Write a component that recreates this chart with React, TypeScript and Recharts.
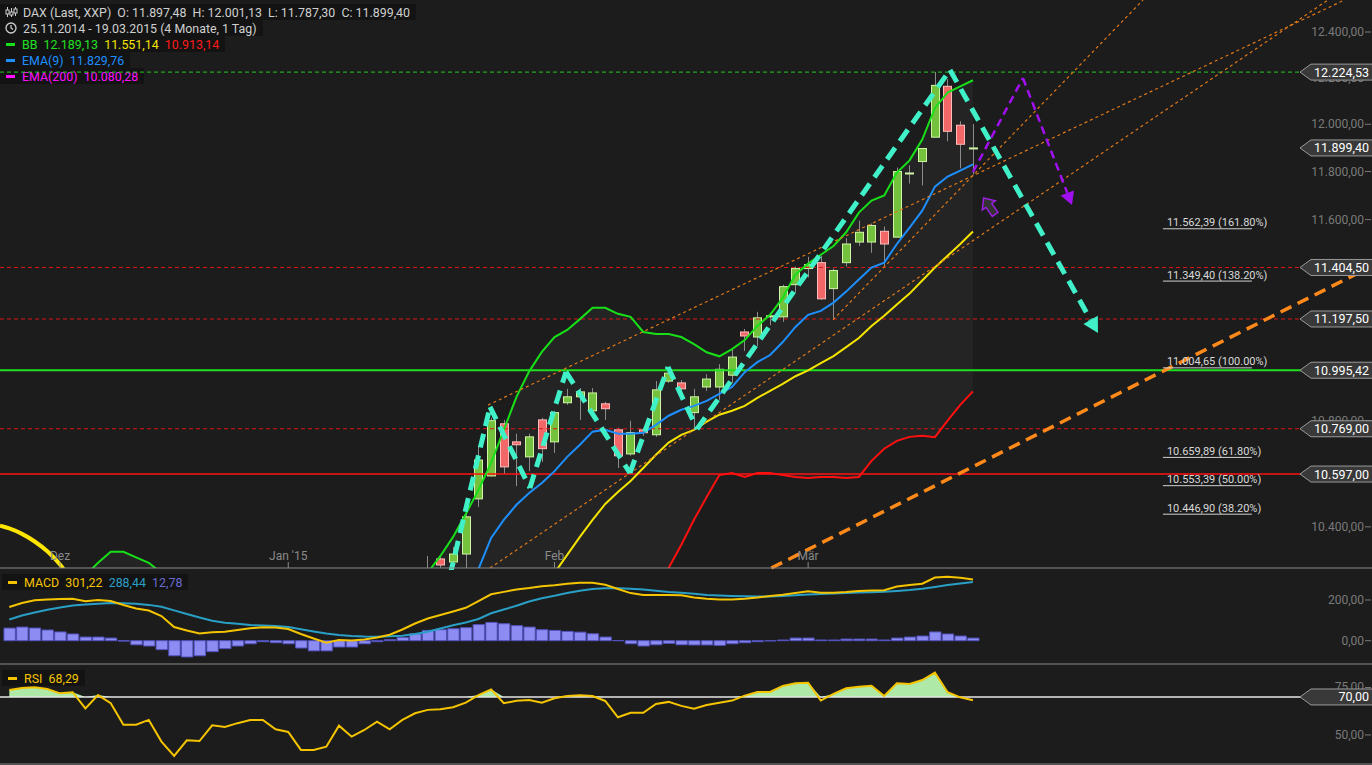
import React from "react";
import { ComposedChart, Bar, Line, Area, XAxis, YAxis, ReferenceLine, ReferenceDot } from "recharts";

const W = 1372;
const BG = "#1c1c1c";

// trading days 25.11.2014 - 19.03.2015
const days = [
  "25.11", "26.11", "27.11", "28.11",
  "01.12", "02.12", "03.12", "04.12", "05.12", "08.12", "09.12", "10.12", "11.12", "12.12",
  "15.12", "16.12", "17.12", "18.12", "19.12", "22.12", "23.12", "29.12",
  "02.01", "05.01", "06.01", "07.01", "08.01", "09.01", "12.01", "13.01", "14.01", "15.01", "16.01",
  "19.01", "20.01", "21.01", "22.01", "23.01", "26.01", "27.01", "28.01", "29.01", "30.01",
  "02.02", "03.02", "04.02", "05.02", "06.02", "09.02", "10.02", "11.02", "12.02", "13.02",
  "16.02", "17.02", "18.02", "19.02", "20.02", "23.02", "24.02", "25.02", "26.02", "27.02",
  "02.03", "03.03", "04.03", "05.03", "06.03", "09.03", "10.03", "11.03", "12.03", "13.03",
  "16.03", "17.03", "18.03", "19.03",
];
const monthTicks = [4, 22, 43, 63];
const monthNames = ["Dez", "Jan '15", "Feb", "Mär"];

// candles from 19.01. on (earlier ones lie below the visible range)
const firstCandle = 33;
const candleOpen = [
  10170, 10282, 10271, 10300, 10504, 10590, 10788, 10719, 10662, 10803, 10719, 10869, 10892, 10838,
  10865, 10765, 10673, 10765, 10746, 10953, 10946, 10831, 10930, 10930, 10976, 11146, 11126, 11206,
  11206, 11335, 11400, 11424, 11319, 11424, 11508, 11508, 11552, 11528, 11790, 11842, 11945, 12163,
  11996, 11897.48,
];
const candleHigh = [
  10293, 10293, 10326, 10452, 10704, 10811, 10803, 10750, 10750, 10811, 10838, 10923, 10926, 10926,
  10873, 10773, 10800, 10773, 10953, 10995, 10957, 10923, 10980, 11019, 11075, 11158, 11226, 11222,
  11335, 11408, 11448, 11452, 11400, 11524, 11596, 11584, 11572, 11817, 11826, 11898, 12224.53, 12194,
  12013, 12001.13,
];
const candleLow = [
  10120, 10235, 10238, 10235, 10474, 10588, 10597, 10552, 10608, 10643, 10677, 10861, 10803, 10831,
  10803, 10620, 10666, 10742, 10738, 10946, 10911, 10773, 10915, 10880, 10946, 11071, 11091, 11173,
  11186, 11303, 11364, 11274, 11194, 11408, 11492, 11464, 11408, 11528, 11750, 11742, 11945, 11928,
  11813, 11787.3,
];
const candleClose = [
  10210, 10260, 10300, 10437, 10650, 10800, 10624, 10708, 10738, 10693, 10831, 10892, 10911, 10907,
  10846, 10666, 10754, 10754, 10919, 10984, 10923, 10892, 10961, 10999, 11047, 11130, 11202, 11210,
  11327, 11400, 11416, 11278, 11392, 11500, 11548, 11576, 11500, 11800, 11794, 11897, 12167, 11970,
  11915, 11899.4,
];

const bbUpper = [
  10080, 10110, 10140, 10170, 10190, 10205, 10222, 10268, 10308, 10308,
  10288, 10268, 10231, 10180, 10130, 10100, 10080, 10060, 10050, 10040,
  10030, 10030, 10030, 10020, 10010, 10005, 10010, 10020, 10040, 10070,
  10100, 10130, 10170, 10232, 10293, 10363, 10448, 10537, 10639, 10765,
  10892, 10991, 11067, 11126, 11154, 11197, 11242, 11242, 11218, 11206,
  11146, 11138, 11138, 11126, 11098, 11066, 11050, 11078, 11114, 11170,
  11214, 11282, 11376, 11420, 11456, 11492, 11548, 11629, 11679, 11700,
  11796, 11847, 11935, 12070, 12136, 12163, 12189.13,
];
const bbMiddle = [
  9450, 9500, 9550, 9600, 9650, 9690, 9730, 9760, 9790, 9810,
  9830, 9840, 9840, 9830, 9820, 9820, 9820, 9830, 9840, 9840,
  9840, 9830, 9820, 9800, 9780, 9770, 9770, 9780, 9790, 9805,
  9815, 9825, 9835, 9845, 9860, 9880, 9900, 9930, 9965, 10000,
  10055, 10110, 10170, 10231, 10297, 10363, 10426, 10485, 10530, 10571,
  10620, 10670, 10716, 10746, 10765, 10796, 10823, 10838, 10857, 10888,
  10915, 10942, 10972, 10995, 11023, 11051, 11086, 11122, 11170, 11210,
  11255, 11299, 11352, 11404, 11452, 11500, 11551.14,
];
const bbLower = [
  9250, 9260, 9280, 9300, 9330, 9380, 9420, 9470, 9520, 9560,
  9580, 9590, 9580, 9550, 9520, 9500, 9500, 9510, 9520, 9530,
  9540, 9550, 9560, 9560, 9540, 9530, 9520, 9520, 9530, 9540,
  9550, 9560, 9570, 9580, 9590, 9600, 9610, 9620, 9630, 9640,
  9650, 9665, 9680, 9700, 9725, 9755, 9790, 9835, 9890, 9960,
  10050, 10150, 10249, 10334, 10426, 10511, 10593, 10601, 10586, 10601,
  10601, 10593, 10586, 10582, 10586, 10586, 10582, 10586, 10647, 10693,
  10723, 10738, 10742, 10737, 10800, 10861, 10913.14,
];
const ema9 = [
  9810, 9840, 9870, 9900, 9930, 9950, 9960, 9970, 9980, 9970,
  9950, 9920, 9880, 9830, 9790, 9770, 9780, 9800, 9830, 9850,
  9860, 9850, 9830, 9800, 9770, 9750, 9760, 9780, 9810, 9840,
  9870, 9900, 9940, 9990, 10050, 10110, 10180, 10245, 10359, 10426,
  10482, 10526, 10563, 10608, 10662, 10708, 10758, 10765, 10750, 10750,
  10754, 10784, 10819, 10842, 10857, 10876, 10903, 10930, 10988, 11027,
  11055, 11106, 11166, 11214, 11230, 11263, 11307, 11356, 11404, 11424,
  11500, 11567, 11637, 11737, 11779, 11804, 11829.76,
];
const ema200Last = 10080.28;

const macdLine = [
  165.6, 185, 198.5, 203, 205, 206, 193.6, 200, 195, 175.4,
  158, 148, 121, 67, 50, 36, 41, 44, 53, 61,
  66, 65, 57.5, 33, 11, -10, 3, 1, 6, 16,
  29.5, 55, 84.5, 109, 126, 143.5, 161.7, 195, 228, 240,
  251.6, 259, 268, 273, 279.6, 285, 285, 275, 254, 234,
  224.6, 224.6, 224.6, 223, 212, 206, 203, 203, 206, 212,
  219.7, 226, 234, 243, 236, 236, 239, 244, 246.7, 248,
  266, 273.7, 280, 310.6, 314.5, 309.6, 301.22,
];
const macdSignal = [
  104, 124, 138.6, 152, 163, 173, 178, 182, 185, 184,
  181, 176, 167, 149, 131, 114, 98, 88, 83, 77,
  75, 72, 67, 56, 45, 35, 28, 23, 20.6, 19.7,
  22, 24.6, 33, 44, 60, 75.7, 89, 106.6, 134.6, 153,
  171.5, 192.6, 209, 220.6, 234, 245.7, 254, 257.5, 257.5, 255,
  251.6, 245, 239, 236, 230.5, 224.6, 222, 219.7, 218, 216.7,
  217.6, 219.7, 223, 227, 229.5, 231.4, 234, 237, 238.3, 240,
  244, 249, 255.5, 264, 273.7, 281, 288.44,
];
const macdHist = [
  62, 67, 62, 52.6, 43, 33, 18, 18, 13, -2,
  -20, -26, -44, -74, -80, -74, -54, -39, -26, -15,
  -5, -10, -15, -36, -50, -50, -31, -31, -15, -5,
  5, 16, 34, 50.6, 54, 59, 64, 79, 90, 83.5,
  74, 67, 54, 50.6, 45.7, 42, 34, 18, 0.5, -15,
  -26, -20, -13, -20, -21, -21, -23, -15, -10, -5,
  -1, 3.4, 13, 13, 3.4, 3.4, 8, 8, 8, 3.4,
  13, 18, 23, 43, 33, 23, 12.78,
];
const rsiLine = [
  73.7, 74.7, 75.1, 74.2, 71.9, 72.5, 64, 71, 66.7, 55.4,
  55.4, 57.9, 46.5, 39, 47.2, 46.8, 55.1, 54.2, 56.2, 57.9,
  57.9, 53, 51.6, 42.1, 42.1, 43.8, 54.9, 49.1, 52.6, 57,
  53, 57.9, 61.4, 63.2, 63.5, 64.6, 67, 71, 74, 66.7,
  68, 68.4, 67, 69.3, 70.5, 70.9, 70.5, 67.9, 59.3, 61.7,
  61.7, 66.3, 67.4, 65.3, 63.8, 65.8, 67, 68.1, 70.7, 72.6,
  72.6, 75.8, 77.2, 77.5, 68.1, 71.6, 74.6, 75.4, 75.9, 70.5,
  77.2, 76.8, 78.9, 82.8, 72.5, 69.8, 68.29,
];

const priceTicks = [10400, 10600, 10800, 11000, 11200, 11400, 11600, 11800, 12000, 12200, 12400];
const macdTicks = [0, 200];
const rsiTicks = [50, 75];

const highLevel = 12224.53;
const lastPrice = 11899.4;
const redDashed = [11404.5, 11197.5, 10769];
const greenLevel = 10995.42;
const redLevel = 10597;
const rsiLevel = 70;

const fibLevels = [11562.39, 11349.4, 11004.65, 10659.89, 10553.39, 10446.9];
const fibPct = ["161.80%", "138.20%", "100.00%", "61.80%", "50.00%", "38.20%"];
const fibSpan = [90.98, 98.0];

// hand drawn annotations, in (trading day index, price)
const zigzag = [
  [34.75, 10220], [37.91, 10853], [41.06, 10545], [43.9, 10989], [48.95, 10601],
  [51.95, 11008], [54.24, 10768], [74.19, 12234], [85.86, 11142],
];
const forecast = [[76.0, 11798], [79.94, 12199], [83.81, 11660]];
const thinTrends = [
  [[37.75, 10860], [105.3, 12542]],
  [[37.91, 10249], [104.0, 12542]],
  [[64.96, 11194], [89.41, 12542]],
];
const thickTrend = [[60.1, 10249], [107.47, 11410]];
const arcPts = [[-0.733, 10404], [0, 10394], [1, 10374], [2, 10346], [3, 10310], [4, 10262], [4.6, 10225]];
const marker = [77.34, 11652];

const xDomain = [-0.733, 107.47];
const priceDomain = [10249.0, 12541.9];
const macdDomain = [-114.5, 347.4];
const rsiDomain = [34.7, 86.3];

const fmt = (v: number) => {
  const [a, b] = v.toFixed(2).split(".");
  return a.replace(/\B(?=(\d{3})+(?!\d))/g, ".") + "," + b;
};

const rows = days.map((d, i) => {
  const k = i - firstCandle;
  const has = k >= 0;
  return {
    i,
    d,
    open: has ? candleOpen[k] : null,
    high: has ? candleHigh[k] : null,
    low: has ? candleLow[k] : null,
    close: has ? candleClose[k] : null,
    range: has ? [candleLow[k], candleHigh[k]] : null,
    band: [bbLower[i], bbUpper[i]],
    upper: bbUpper[i],
    middle: bbMiddle[i],
    lower: bbLower[i],
    ema: ema9[i],
    macd: macdLine[i],
    signal: macdSignal[i],
    hist: macdHist[i],
    rsi: rsiLine[i],
    rsiFill: [rsiLevel, Math.max(rsiLevel, rsiLine[i])],
  };
});
const arcData = arcPts.map(([i, v]) => ({ i, arc: v }));

const Candle = (props: any) => {
  const { x, y, width, height, payload } = props;
  if (!payload || payload.open == null || !height) return null;
  const { open, close, high, low } = payload;
  const lh = Math.log(high);
  const ll = Math.log(low);
  const py = (v: number) => y + (height * (lh - Math.log(v))) / (lh - ll);
  const up = close >= open;
  const top = py(Math.max(open, close));
  const bot = py(Math.min(open, close));
  const cx = Math.round(x + width / 2) + 0.5;
  const bw = 8;
  return (
    <g>
      <line x1={cx} x2={cx} y1={y} y2={y + height} stroke="#8c8c8c" strokeWidth={1} />
      <rect
        x={cx - bw / 2}
        y={top}
        width={bw}
        height={Math.max(bot - top, 1)}
        fill={up ? "#74c13d" : "#f26767"}
        stroke={up ? "#d2f4a6" : "#ffbcbc"}
        strokeWidth={1}
      />
    </g>
  );
};

const tag = (text: string) => (props: any) => {
  const vb = props.viewBox || {};
  const y = vb.y;
  if (y == null) return null;
  const x0 = W - 72;
  return (
    <g>
      <path
        d={`M${x0},${y} L${x0 + 11},${y - 8} L${W + 2},${y - 8} L${W + 2},${y + 8} L${x0 + 11},${y + 8} Z`}
        fill="#393939"
        stroke="#9a9a9a"
        strokeWidth={1}
      />
      <text x={W - 3} y={y} textAnchor="end" dominantBaseline="central" fill="#ffffff" fontSize={12.5}>
        {text}
      </text>
    </g>
  );
};

const tickLabel = (text: string) => (props: any) => {
  const vb = props.viewBox || {};
  const y = vb.y;
  if (y == null) return null;
  return (
    <g>
      <text x={W - 8} y={y} textAnchor="end" dominantBaseline="central" fill="#7a7a7a" fontSize={12}>
        {text}
      </text>
      <line x1={W - 7} x2={W - 1} y1={y} y2={y} stroke="#7a7a7a" strokeWidth={1} />
    </g>
  );
};

const fibLabel = (text: string) => (props: any) => {
  const vb = props.viewBox || {};
  return (
    <text x={vb.x + 4} y={vb.y - 2.5} fill="#d8d8d8" fontSize={11}>
      {text}
    </text>
  );
};

const arrowLine = (head: number, color: string) => (p: any) => {
  const { x1, y1, x2, y2 } = p;
  const a = Math.atan2(y2 - y1, x2 - x1);
  const bx = x2 - Math.cos(a) * head;
  const by = y2 - Math.sin(a) * head;
  const nx = -Math.sin(a) * head * 0.55;
  const ny = Math.cos(a) * head * 0.55;
  return (
    <g>
      <line x1={x1} y1={y1} x2={bx} y2={by} stroke={p.stroke} strokeWidth={p.strokeWidth} strokeDasharray={p.strokeDasharray} />
      <polygon points={`${x2},${y2} ${bx + nx},${by + ny} ${bx - nx},${by - ny}`} fill={color} />
    </g>
  );
};

const BlockArrow = (p: any) => {
  const { cx, cy } = p;
  if (cx == null) return null;
  return (
    <polygon
      transform={`translate(${cx},${cy}) rotate(-35)`}
      points="0,-11 8,-2 3.5,-2 3.5,9 -3.5,9 -3.5,-2 -8,-2"
      fill="#333"
      stroke="#9a20e0"
      strokeWidth={1.5}
    />
  );
};

const xAxisProps = {
  dataKey: "i",
  type: "number" as const,
  domain: xDomain,
  allowDataOverflow: true,
  ticks: monthTicks,
  interval: 0 as const,
  orientation: "bottom" as const,
  mirror: true,
  height: 1,
  stroke: "#8a8a8a",
  tickSize: 6,
  tickMargin: 2,
};

const axisTicks = (values: number[]) =>
  values.map((v) => (
    <ReferenceLine key={"tk" + v} y={v} stroke="none" ifOverflow="visible" label={tickLabel(fmt(v))} />
  ));

function MainChart() {
  return (
    <ComposedChart width={W} height={570} data={rows} margin={{ top: 0, right: 0, bottom: 2, left: 0 }}>
      <XAxis
        {...xAxisProps}
        tickFormatter={(v: number) => monthNames[monthTicks.indexOf(v)] ?? ""}
        tick={{ fill: "#8a8a8a", fontSize: 12 }}
      />
      <YAxis hide scale="log" domain={priceDomain} allowDataOverflow />
      <Area dataKey="band" type="linear" stroke="none" fill="#ffffff" fillOpacity={0.035} isAnimationActive={false} />

      <ReferenceLine y={highLevel} stroke="#22cc22" strokeDasharray="4 3" ifOverflow="visible" />
      {redDashed.map((v) => (
        <ReferenceLine key={v} y={v} stroke="#dd1515" strokeDasharray="4 3" ifOverflow="visible" />
      ))}
      <ReferenceLine y={greenLevel} stroke="#1ee01e" strokeWidth={2} ifOverflow="visible" />
      <ReferenceLine y={redLevel} stroke="#ff1010" strokeWidth={1.5} ifOverflow="visible" />

      <Bar dataKey="range" barSize={8} shape={<Candle />} isAnimationActive={false} />

      <Line dataKey="lower" type="linear" stroke="#ff1010" strokeWidth={2} dot={false} isAnimationActive={false} />
      <Line dataKey="middle" type="linear" stroke="#f5e400" strokeWidth={2} dot={false} isAnimationActive={false} />
      <Line dataKey="upper" type="linear" stroke="#18e018" strokeWidth={2} dot={false} isAnimationActive={false} />
      <Line dataKey="ema" type="linear" stroke="#1e8fff" strokeWidth={2} dot={false} isAnimationActive={false} />
      <Line data={arcData} dataKey="arc" type="monotone" stroke="#ffe600" strokeWidth={4} dot={false} isAnimationActive={false} />

      {thinTrends.map((s, k) => (
        <ReferenceLine
          key={"t" + k}
          segment={[{ x: s[0][0], y: s[0][1] }, { x: s[1][0], y: s[1][1] }]}
          stroke="#e07818"
          strokeWidth={1.2}
          strokeDasharray="3 3"
          ifOverflow="visible"
        />
      ))}
      <ReferenceLine
        segment={[{ x: thickTrend[0][0], y: thickTrend[0][1] }, { x: thickTrend[1][0], y: thickTrend[1][1] }]}
        stroke="#ff8a1a"
        strokeWidth={3.5}
        strokeDasharray="12 7"
        ifOverflow="visible"
      />
      {zigzag.slice(1).map((p, k) => (
        <ReferenceLine
          key={"z" + k}
          segment={[{ x: zigzag[k][0], y: zigzag[k][1] }, { x: p[0], y: p[1] }]}
          stroke="#40f0c8"
          strokeWidth={5}
          strokeDasharray="14 8"
          ifOverflow="visible"
          shape={k === zigzag.length - 2 ? arrowLine(15, "#40f0c8") : undefined}
        />
      ))}
      {forecast.slice(1).map((p, k) => (
        <ReferenceLine
          key={"f" + k}
          segment={[{ x: forecast[k][0], y: forecast[k][1] }, { x: p[0], y: p[1] }]}
          stroke="#a010f0"
          strokeWidth={2.5}
          strokeDasharray="8 5"
          ifOverflow="visible"
          shape={k === forecast.length - 2 ? arrowLine(13, "#a010f0") : undefined}
        />
      ))}
      <ReferenceDot x={marker[0]} y={marker[1]} ifOverflow="visible" shape={BlockArrow} />

      {fibLevels.map((v, k) => (
        <ReferenceLine
          key={"fib" + k}
          segment={[{ x: fibSpan[0], y: v }, { x: fibSpan[1], y: v }]}
          stroke="#d0d0d0"
          strokeWidth={1}
          ifOverflow="visible"
          label={fibLabel(`${fmt(v)} (${fibPct[k]})`)}
        />
      ))}

      {axisTicks(priceTicks)}
      <ReferenceLine y={highLevel} stroke="none" ifOverflow="visible" label={tag(fmt(highLevel))} />
      <ReferenceLine y={lastPrice} stroke="none" ifOverflow="visible" label={tag(fmt(lastPrice))} />
      {redDashed.map((v) => (
        <ReferenceLine key={"l" + v} y={v} stroke="none" ifOverflow="visible" label={tag(fmt(v))} />
      ))}
      <ReferenceLine y={greenLevel} stroke="none" ifOverflow="visible" label={tag(fmt(greenLevel))} />
      <ReferenceLine y={redLevel} stroke="none" ifOverflow="visible" label={tag(fmt(redLevel))} />
    </ComposedChart>
  );
}

function MacdChart() {
  return (
    <ComposedChart width={W} height={96} data={rows} margin={{ top: 0, right: 0, bottom: 2, left: 0 }}>
      <XAxis {...xAxisProps} tick={false} />
      <YAxis hide domain={macdDomain} allowDataOverflow />
      <Bar dataKey="hist" barSize={12.7} fill="#8c8cf2" stroke="#5252c0" strokeWidth={1} isAnimationActive={false} />
      <Line dataKey="signal" type="linear" stroke="#2a9fc6" strokeWidth={2} dot={false} isAnimationActive={false} />
      <Line dataKey="macd" type="linear" stroke="#f5c400" strokeWidth={2} dot={false} isAnimationActive={false} />
      {axisTicks(macdTicks)}
    </ComposedChart>
  );
}

function RsiChart() {
  return (
    <ComposedChart width={W} height={100} data={rows} margin={{ top: 0, right: 0, bottom: 2, left: 0 }}>
      <XAxis {...xAxisProps} tick={false} />
      <YAxis hide domain={rsiDomain} allowDataOverflow />
      <Area dataKey="rsiFill" type="linear" stroke="none" fill="#aee9a8" fillOpacity={1} isAnimationActive={false} />
      <ReferenceLine y={rsiLevel} stroke="#e6e6e6" strokeWidth={1.5} ifOverflow="visible" />
      <Line dataKey="rsi" type="linear" stroke="#f5c400" strokeWidth={2} dot={false} isAnimationActive={false} />
      {axisTicks(rsiTicks)}
      <ReferenceLine y={rsiLevel} stroke="none" ifOverflow="visible" label={tag(fmt(rsiLevel))} />
    </ComposedChart>
  );
}

const rowStyle: React.CSSProperties = {
  display: "flex",
  alignItems: "center",
  height: 16,
  background: "#131313",
  width: "fit-content",
  paddingRight: 6,
  whiteSpace: "pre",
  fontSize: 12.4,
  color: "#cfcfcf",
};

const Swatch = ({ color }: { color: string }) => (
  <span style={{ display: "inline-block", width: 9, height: 3, background: color, margin: "0 7px 0 6px" }} />
);

function Legend() {
  const last = candleOpen.length - 1;
  const n = days.length - 1;
  return (
    <div style={{ position: "absolute", left: 0, top: 4 }}>
      <div style={rowStyle}>
        <svg width={23} height={16}>
          <g stroke="#cfcfcf" strokeWidth={1}>
            <line x1={7.5} y1={3} x2={7.5} y2={13} />
            <line x1={11.5} y1={4} x2={11.5} y2={13} />
            <line x1={15.5} y1={3} x2={15.5} y2={12} />
            <rect x={6} y={6} width={3} height={4} fill="#131313" />
            <rect x={10} y={8} width={3} height={3} fill="#131313" />
            <rect x={14} y={5} width={3} height={4} fill="#131313" />
          </g>
        </svg>
        <span>
          {`DAX (Last, XXP)  O: ${fmt(candleOpen[last])}  H: ${fmt(candleHigh[last])}  L: ${fmt(candleLow[last])}  C: ${fmt(candleClose[last])}`}
        </span>
      </div>
      <div style={rowStyle}>
        <svg width={23} height={16}>
          <circle cx={11} cy={8} r={5} fill="none" stroke="#cfcfcf" strokeWidth={1.3} />
          <path d="M11,5 L11,8 L13,9.5" fill="none" stroke="#cfcfcf" strokeWidth={1.2} />
        </svg>
        <span>25.11.2014 - 19.03.2015 (4 Monate, 1 Tag)</span>
      </div>
      <div style={rowStyle}>
        <Swatch color="#18e018" />
        <span style={{ color: "#22e022" }}>{`BB  ${fmt(bbUpper[n])}  `}</span>
        <span style={{ color: "#f5e400" }}>{`${fmt(bbMiddle[n])}  `}</span>
        <span style={{ color: "#ff1a1a" }}>{fmt(bbLower[n])}</span>
      </div>
      <div style={rowStyle}>
        <Swatch color="#1e8fff" />
        <span style={{ color: "#1e8fff" }}>{`EMA(9)  ${fmt(ema9[n])}`}</span>
      </div>
      <div style={rowStyle}>
        <Swatch color="#ff10ff" />
        <span style={{ color: "#ff10ff" }}>{`EMA(200)  ${fmt(ema200Last)}`}</span>
      </div>
    </div>
  );
}

function PanelLegend({ top, items }: { top: number; items: { text: string; color: string }[] }) {
  return (
    <div style={{ position: "absolute", left: 2, top }}>
      <div style={{ ...rowStyle, paddingRight: 6 }}>
        <Swatch color={items[0].color} />
        {items.map((it, k) => (
          <span key={k} style={{ color: it.color }}>
            {(k ? "  " : "") + it.text}
          </span>
        ))}
      </div>
    </div>
  );
}

export default function App() {
  const n = days.length - 1;
  return (
    <div
      style={{
        position: "absolute",
        left: 0,
        top: 0,
        width: W,
        height: 765,
        background: BG,
        overflow: "hidden",
        fontFamily: "Roboto, 'DejaVu Sans', sans-serif",
      }}
    >
      <Legend />
      <div style={{ position: "absolute", left: 0, top: 0 }}>
        <MainChart />
      </div>
      <div style={{ position: "absolute", left: 0, top: 570 }}>
        <MacdChart />
      </div>
      <div style={{ position: "absolute", left: 0, top: 666 }}>
        <RsiChart />
      </div>
      <PanelLegend
        top={574}
        items={[
          { text: "MACD", color: "#f5c400" },
          { text: fmt(macdLine[n]), color: "#f5c400" },
          { text: fmt(macdSignal[n]), color: "#2a9fc6" },
          { text: fmt(macdHist[n]), color: "#6a6ad0" },
        ]}
      />
      <PanelLegend
        top={670}
        items={[
          { text: "RSI", color: "#f5c400" },
          { text: fmt(rsiLine[n]), color: "#f5c400" },
        ]}
      />
    </div>
  );
}
